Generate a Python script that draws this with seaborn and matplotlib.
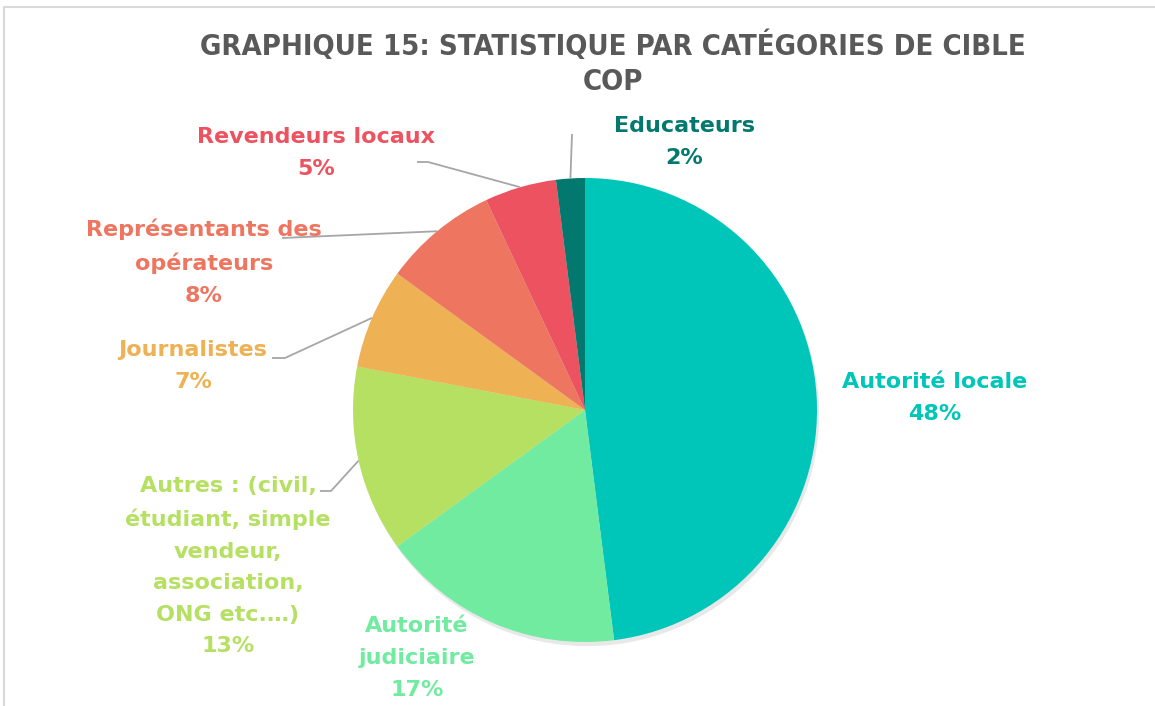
import numpy as np
import matplotlib
matplotlib.use("Agg")
import matplotlib.pyplot as plt
import seaborn as sns

# ---- data ----
categories = [
    "Autorité locale",
    "Autorité\njudiciaire",
    "Autres : (civil,\nétudiant, simple\nvendeur,\nassociation,\nONG etc.…)",
    "Journalistes",
    "Représentants des\nopérateurs",
    "Revendeurs locaux",
    "Educateurs",
]
values = [48, 17, 13, 7, 8, 5, 2]
colors = ["#00C6BA", "#70EB9F", "#B5E062", "#EEB153", "#EE7660", "#EC525F", "#02786E"]
title = "GRAPHIQUE 15: STATISTIQUE PAR CATÉGORIES DE CIBLE\nCOP"

# ---- layout (pixels, origin bottom-left) ----
W, H = 1155, 706
cx, cy, R = 585, H - 410, 232
label_pos = [(935, H - 398), (417, H - 658), (228, H - 566), (193, H - 366),
             (204, H - 262), (316, H - 153), (684, H - 142)]
leaders = [None, None,
           [(331, H - 491), (320, H - 491)],
           [(285, H - 358), (272, H - 358)],
           [(282, H - 238)],
           [(428, H - 162), (417, H - 162)],
           [(572, H - 134)]]

sns.set_theme(style="white")
plt.rcParams["font.family"] = ["DejaVu Sans"]

fig = plt.figure(figsize=(W / 100, H / 100), dpi=100)
ax = fig.add_axes([0, 0, 1, 1])

wedges, _ = ax.pie(values, colors=colors, startangle=90, counterclock=False,
                   radius=R, center=(cx, cy),
                   wedgeprops=dict(linewidth=0, antialiased=True),
                   shadow=dict(ox=1.5, oy=-3, facecolor="#9A9A9A",
                               edgecolor="none", alpha=0.22))
ax.set_xlim(0, W)
ax.set_ylim(0, H)
ax.set_aspect("equal")
ax.axis("off")

for i, w in enumerate(wedges):
    mid = np.deg2rad((w.theta1 + w.theta2) / 2)
    ex, ey = cx + R * np.cos(mid), cy + R * np.sin(mid)
    lx, ly = label_pos[i]
    ax.text(lx, ly, f"{categories[i]}\n{values[i]}%", color=colors[i],
            ha="center", va="center", fontsize=16, fontweight="bold",
            linespacing=1.72, zorder=5)
    if leaders[i]:
        pts = [(ex, ey)] + leaders[i]
        xs, ys = zip(*pts)
        ax.plot(xs, ys, color="#A6A6A6", lw=1.3, solid_capstyle="butt", zorder=4)

fig.text(613 / W, 1 - 63 / H, title, ha="center", va="center",
         fontsize=21, fontweight="bold", color="#595959", linespacing=1.3,
         fontstretch="condensed")

# chart frame
ax.plot([4, 4, W], [0, H - 7, H - 7], color="#D9D9D9", lw=1.5)

fig.savefig("out.png", dpi=100, facecolor="white")
